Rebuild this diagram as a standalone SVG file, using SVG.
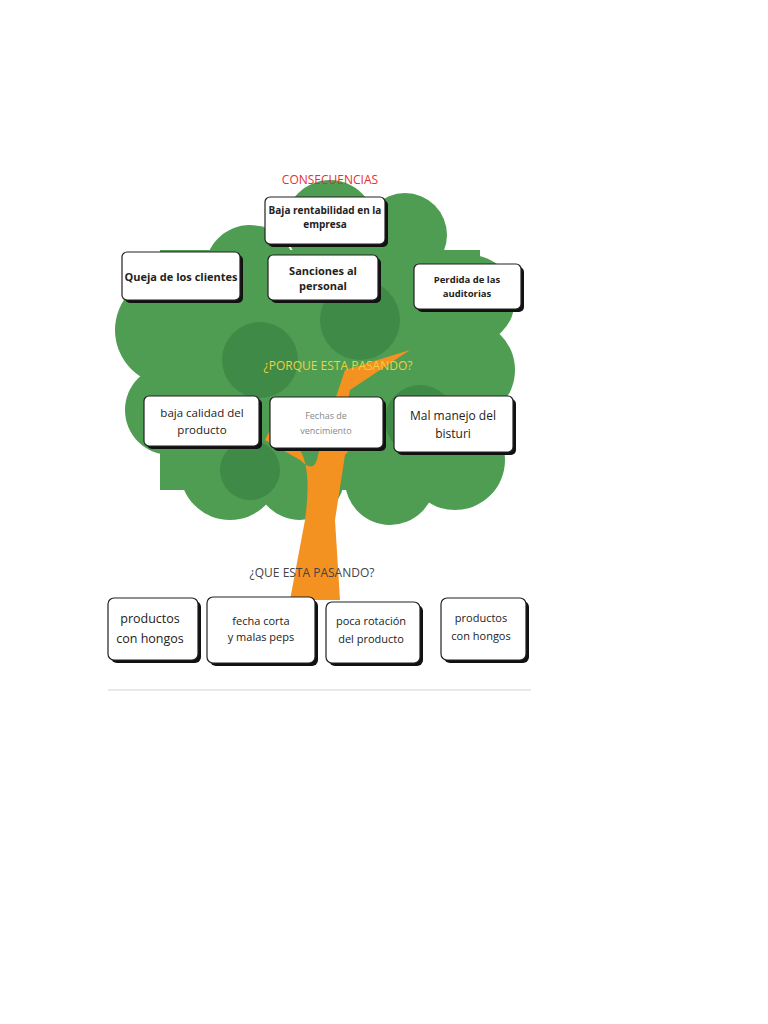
<svg xmlns="http://www.w3.org/2000/svg" width="768" height="1024" viewBox="0 0 768 1024">
<defs>
<style>
.bx{fill:#fff;stroke:#222;stroke-width:1.2}
.sh{fill:#111}
.t{font-family:"Open Sans","DejaVu Sans",sans-serif;text-anchor:middle;fill:#222}
.g1{fill:#4e9d52}
.g2{fill:#3f8a46}
.tr{fill:#f39220}
</style>
</defs>
<rect width="768" height="1024" fill="#fff"/>
<g id="tree">
<circle class="g1" cx="250" cy="270" r="45"/>
<circle class="g1" cx="330" cy="225" r="45"/>
<circle class="g1" cx="405" cy="235" r="42"/>
<circle class="g1" cx="470" cy="300" r="45"/>
<circle class="g1" cx="170" cy="330" r="55"/>
<circle class="g1" cx="465" cy="370" r="50"/>
<circle class="g1" cx="170" cy="410" r="45"/>
<circle class="g1" cx="230" cy="470" r="50"/>
<circle class="g1" cx="300" cy="475" r="45"/>
<circle class="g1" cx="390" cy="480" r="45"/>
<circle class="g1" cx="455" cy="460" r="50"/>
<rect class="g1" x="160" y="250" width="320" height="240"/>
<circle class="g2" cx="360" cy="320" r="40"/>
<circle class="g2" cx="260" cy="360" r="38"/>
<circle class="g2" cx="420" cy="420" r="35"/>
<circle class="g2" cx="250" cy="470" r="30"/>
<path class="tr" d="M290 600 L305 520 Q312 470 300 450 L270 430 L265 440 L300 460 Q315 475 318 455 L330 415 L345 370 L410 350 L350 390 L340 440 L368 420 L372 425 L345 455 L335 520 L340 600 Z"/>
</g>
<g id="labels">
<text class="t" x="330" y="184" font-size="12" fill="#e53030" style="fill:#e53030">CONSECUENCIAS</text>
<text class="t" x="338" y="370" font-size="12" style="fill:#f0d040">¿PORQUE ESTA PASANDO?</text>
<text class="t" x="312" y="577" font-size="12" style="fill:#444">¿QUE ESTA PASANDO?</text>
</g>
<g id="n1"><rect class="sh" x="268" y="200" width="120" height="47" rx="5"/><rect class="bx" x="265" y="197" width="120" height="47" rx="5"/><text class="t" font-size="10" font-weight="bold"><tspan x="325" y="214">Baja rentabilidad en la</tspan><tspan x="325" y="228">empresa</tspan></text></g>
<g id="n2"><rect class="sh" x="125" y="255" width="118" height="48" rx="5"/><rect class="bx" x="122" y="252" width="118" height="48" rx="5"/><text class="t" x="181" y="281" font-size="11" font-weight="bold">Queja de los clientes</text></g>
<g id="n3"><rect class="sh" x="271" y="258" width="110" height="45" rx="5"/><rect class="bx" x="268" y="255" width="110" height="45" rx="5"/><text class="t" font-size="11" font-weight="bold"><tspan x="323" y="275">Sanciones al</tspan><tspan x="323" y="290">personal</tspan></text></g>
<g id="n4"><rect class="sh" x="417" y="267" width="107" height="45" rx="5"/><rect class="bx" x="414" y="264" width="107" height="45" rx="5"/><text class="t" font-size="9.5" font-weight="bold"><tspan x="467" y="283">Perdida de las</tspan><tspan x="467" y="297">auditorias</tspan></text></g>
<g id="n5"><rect class="sh" x="147" y="399" width="115" height="50" rx="5"/><rect class="bx" x="144" y="396" width="115" height="50" rx="5"/><text class="t" font-size="11.5"><tspan x="202" y="417">baja calidad del</tspan><tspan x="202" y="434">producto</tspan></text></g>
<g id="n6"><rect class="sh" x="273" y="400" width="113" height="51" rx="5"/><rect class="bx" x="270" y="397" width="113" height="51" rx="5"/><text class="t" font-size="9" style="fill:#888"><tspan x="326" y="419">Fechas de</tspan><tspan x="326" y="434">vencimiento</tspan></text></g>
<g id="n7"><rect class="sh" x="397" y="399" width="119" height="56" rx="5"/><rect class="bx" x="394" y="396" width="119" height="56" rx="5"/><text class="t" font-size="12"><tspan x="453" y="420">Mal manejo del</tspan><tspan x="453" y="438">bisturi</tspan></text></g>
<g id="n8"><rect class="sh" x="111" y="601" width="90" height="62" rx="6"/><rect class="bx" x="108" y="598" width="90" height="62" rx="6"/><text class="t" font-size="12.5"><tspan x="150" y="623">productos</tspan><tspan x="150" y="643">con hongos</tspan></text></g>
<g id="n9"><rect class="sh" x="210" y="600" width="108" height="66" rx="6"/><rect class="bx" x="207" y="597" width="108" height="66" rx="6"/><text class="t" font-size="11"><tspan x="261" y="625">fecha corta</tspan><tspan x="261" y="641">y malas peps</tspan></text></g>
<g id="n10"><rect class="sh" x="329" y="605" width="94" height="61" rx="6"/><rect class="bx" x="326" y="602" width="94" height="61" rx="6"/><text class="t" font-size="11"><tspan x="371" y="625">poca rotación</tspan><tspan x="371" y="643">del producto</tspan></text></g>
<g id="n11"><rect class="sh" x="444" y="601" width="85" height="62" rx="6"/><rect class="bx" x="441" y="598" width="85" height="62" rx="6"/><text class="t" font-size="11"><tspan x="481" y="622">productos</tspan><tspan x="481" y="640">con hongos</tspan></text></g>
<g id="connectors"></g>
<line x1="108" y1="690" x2="531" y2="690" stroke="#e0e0e0" stroke-width="1.5"/>
</svg>
